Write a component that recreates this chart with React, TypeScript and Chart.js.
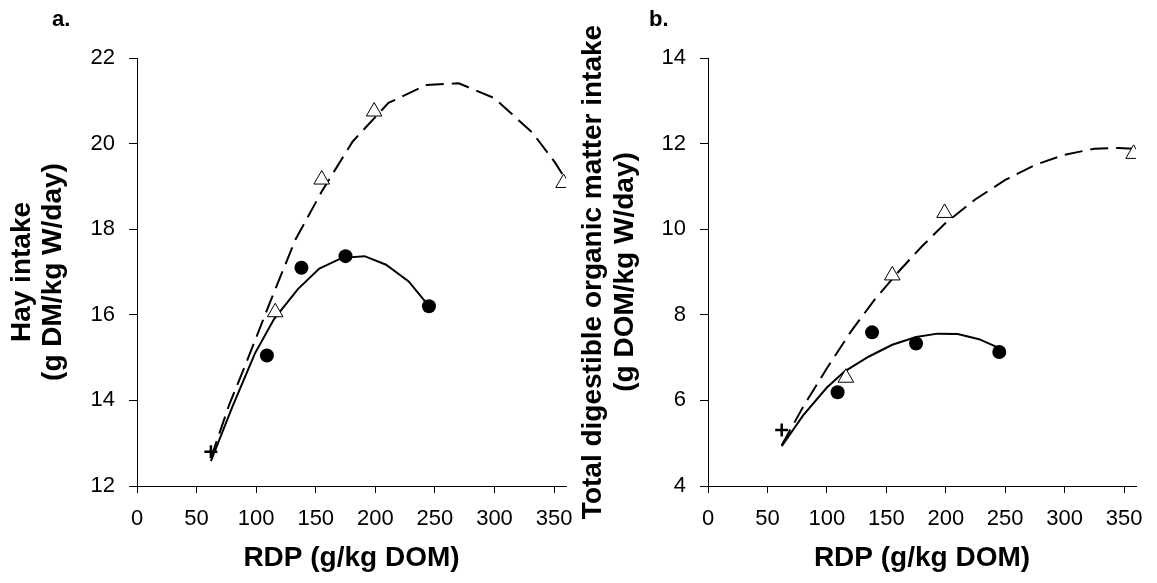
import React, { useEffect, useRef } from 'react';
import { Chart, registerables } from 'chart.js';

Chart.register(...registerables);

const FONT = "'Liberation Sans', Arial, Helvetica, sans-serif";

// ---- shared axis ----
const xTitle = 'RDP (g/kg DOM)';
const xMin = 0;
const xMax = 360;
const xStep = 50;

// ---- panel a: hay intake ----
const aYTitle = ['Hay intake', '(g DM/kg W/day)'];
const aYMin = 12;
const aYMax = 22;
const aYStep = 2;
const aCrossX = [62];
const aCrossY = [12.8];
const aCircleX = [109, 138, 175, 245];
const aCircleY = [15.05, 17.1, 17.37, 16.2];
const aTriX = [116, 155, 199, 358];
const aTriY = [16.06, 19.16, 20.75, 19.08];
const aSolidX = [62, 80, 99, 115, 135, 153, 172, 191, 209, 228, 245];
const aSolidY = [12.58, 13.85, 15.1, 15.9, 16.6, 17.08, 17.33, 17.37, 17.17, 16.78, 16.2];
const aDashX = [62, 77, 92, 111, 133, 155, 181, 211, 243, 270, 300, 332, 351, 360];
const aDashY = [12.65, 13.87, 14.9, 16.25, 17.76, 18.88, 20.05, 20.95, 21.37, 21.41, 21.06, 20.25, 19.55, 19.15];

// ---- panel b: total digestible organic matter intake ----
const bYTitle = ['Total digestible organic matter intake', '(g DOM/kg W/day)'];
const bYMin = 4;
const bYMax = 14;
const bYStep = 2;
const bCrossX = [62];
const bCrossY = [5.31];
const bCircleX = [109, 138, 175, 245];
const bCircleY = [6.19, 7.59, 7.33, 7.13];
const bTriX = [116, 155, 199, 358];
const bTriY = [6.53, 8.92, 10.38, 11.76];
const bSolidX = [62, 80, 100, 115, 135, 155, 175, 193, 210, 228, 245];
const bSolidY = [4.93, 5.65, 6.3, 6.68, 7.02, 7.3, 7.48, 7.56, 7.55, 7.43, 7.22];
const bDashX = [62, 80, 100, 120, 140, 160, 180, 200, 225, 250, 275, 300, 325, 345, 358];
const bDashY = [4.95, 5.85, 6.75, 7.6, 8.35, 9.0, 9.6, 10.15, 10.7, 11.15, 11.5, 11.74, 11.88, 11.9, 11.88];

const pts = (xs: number[], ys: number[]) => xs.map((x, i) => ({ x, y: ys[i] }));

type PanelSpec = {
  yTitle: string[];
  yMin: number;
  yMax: number;
  yStep: number;
  crossX: number[];
  crossY: number[];
  circleX: number[];
  circleY: number[];
  triX: number[];
  triY: number[];
  solidX: number[];
  solidY: number[];
  dashX: number[];
  dashY: number[];
  yAxisWidth: number;
  titlePad: number;
  rightPad: number;
};

function makeConfig(p: PanelSpec): any {
  const axisColor = '#000';
  return {
    type: 'scatter',
    data: {
      datasets: [
        {
          data: pts(p.crossX, p.crossY),
          pointStyle: 'cross',
          pointRadius: 6.5,
          borderColor: '#000',
          borderWidth: 2.5,
          backgroundColor: '#000',
          order: 0,
        },
        {
          data: pts(p.circleX, p.circleY),
          pointStyle: 'circle',
          pointRadius: 7,
          borderColor: '#000',
          borderWidth: 0,
          backgroundColor: '#000',
          order: 0,
        },
        {
          data: pts(p.triX, p.triY),
          pointStyle: 'triangle',
          pointRadius: 9,
          borderColor: '#000',
          borderWidth: 1,
          backgroundColor: '#fff',
          order: 0,
        },
        {
          data: pts(p.solidX, p.solidY),
          showLine: true,
          pointRadius: 0,
          borderColor: '#000',
          borderWidth: 2,
          tension: 0,
          fill: false,
          order: 1,
        },
        {
          data: pts(p.dashX, p.dashY),
          showLine: true,
          pointRadius: 0,
          borderColor: '#000',
          borderWidth: 2,
          borderDash: [18, 8],
          tension: 0,
          fill: false,
          order: 1,
        },
      ],
    },
    options: {
      animation: false,
      responsive: false,
      events: [],
      layout: { padding: { left: 0, right: p.rightPad, top: 58, bottom: 0 } },
      plugins: { legend: { display: false }, tooltip: { enabled: false } },
      scales: {
        x: {
          type: 'linear',
          min: xMin,
          max: xMax,
          ticks: {
            stepSize: xStep,
            includeBounds: false,
            color: '#000',
            padding: 13,
            font: { family: FONT, size: 22 },
            maxRotation: 0,
          },
          grid: {
            display: true,
            drawOnChartArea: false,
            drawTicks: true,
            tickLength: 7,
            color: axisColor,
          },
          border: { display: true, color: axisColor, width: 1 },
          title: {
            display: true,
            text: xTitle,
            color: '#000',
            font: { family: FONT, size: 28, weight: 'bold' },
            padding: { top: 0, bottom: 8 },
          },
          afterFit: (s: any) => {
            s.height = 97;
            s.paddingLeft = 0;
            s.paddingRight = 0;
          },
        },
        y: {
          type: 'linear',
          min: p.yMin,
          max: p.yMax,
          ticks: {
            stepSize: p.yStep,
            color: '#000',
            padding: 14,
            font: { family: FONT, size: 22 },
          },
          grid: {
            display: true,
            drawOnChartArea: false,
            drawTicks: true,
            tickLength: 8,
            color: axisColor,
          },
          border: { display: true, color: axisColor, width: 1 },
          title: {
            display: true,
            text: p.yTitle,
            color: '#000',
            font: { family: FONT, size: 28, weight: 'bold', lineHeight: 1.12 },
            padding: { top: p.titlePad, bottom: 0 },
          },
          afterFit: (s: any) => {
            s.width = p.yAxisWidth;
          },
        },
      },
    },
  };
}

function Panel({ left, width, spec }: { left: number; width: number; spec: PanelSpec }) {
  const ref = useRef<HTMLCanvasElement | null>(null);
  useEffect(() => {
    if (!ref.current) return;
    const chart = new Chart(ref.current, makeConfig(spec));
    return () => chart.destroy();
  }, []);
  return (
    <canvas
      ref={ref}
      width={width}
      height={583}
      style={{ position: 'absolute', left, top: 0, width, height: 583 }}
    />
  );
}

const specA: PanelSpec = {
  yTitle: aYTitle, yMin: aYMin, yMax: aYMax, yStep: aYStep,
  crossX: aCrossX, crossY: aCrossY, circleX: aCircleX, circleY: aCircleY,
  triX: aTriX, triY: aTriY, solidX: aSolidX, solidY: aSolidY, dashX: aDashX, dashY: aDashY,
  yAxisWidth: 137, titlePad: 6.5, rightPad: 12,
};

const specB: PanelSpec = {
  yTitle: bYTitle, yMin: bYMin, yMax: bYMax, yStep: bYStep,
  crossX: bCrossX, crossY: bCrossY, circleX: bCircleX, circleY: bCircleY,
  triX: bTriX, triY: bTriY, solidX: bSolidX, solidY: bSolidY, dashX: bDashX, dashY: bDashY,
  yAxisWidth: 130, titlePad: 0, rightPad: 21,
};

const labelStyle: React.CSSProperties = {
  position: 'absolute',
  top: 6,
  fontFamily: FONT,
  fontWeight: 'bold',
  fontSize: 22,
  lineHeight: '26px',
  color: '#000',
};

export default function App() {
  return (
    <div style={{ position: 'absolute', left: 0, top: 0, width: 1157, height: 583, background: '#fff', overflow: 'hidden' }}>
      <Panel left={0} width={578} spec={specA} />
      <Panel left={578} width={579} spec={specB} />
      <div style={{ ...labelStyle, left: 52 }}>a.</div>
      <div style={{ ...labelStyle, left: 649 }}>b.</div>
    </div>
  );
}
